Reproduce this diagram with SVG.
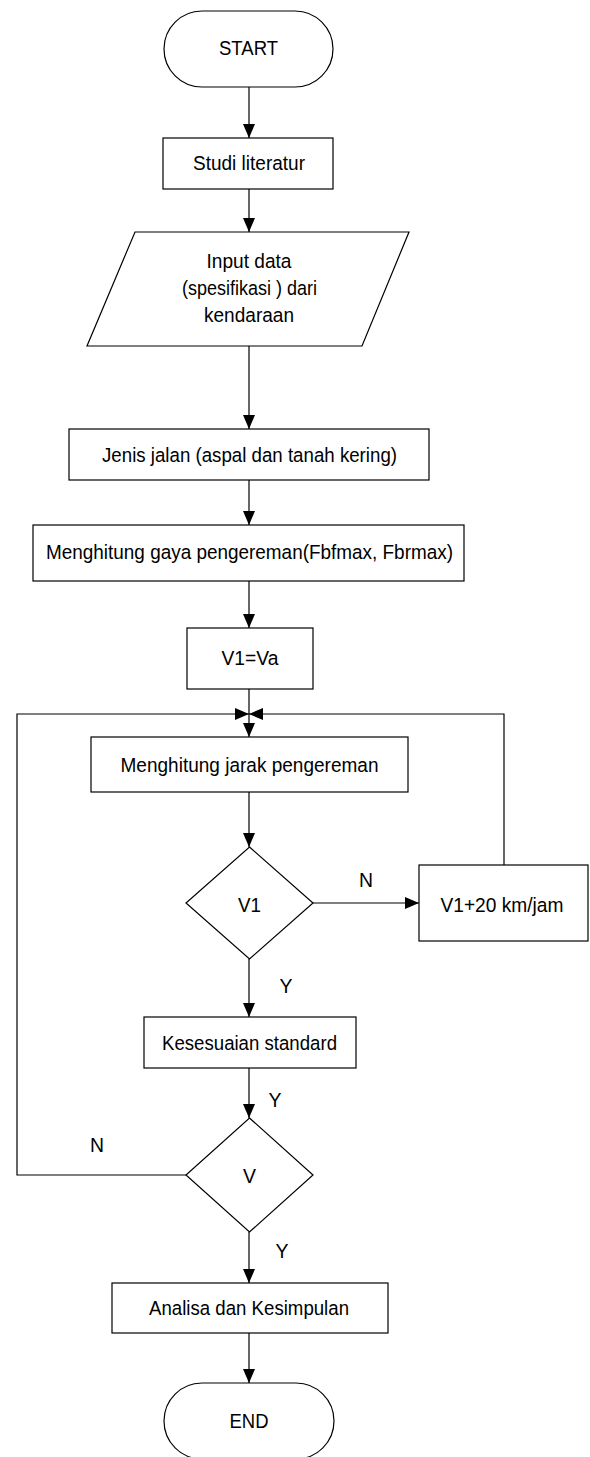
<svg xmlns="http://www.w3.org/2000/svg" width="590" height="1457" viewBox="0 0 590 1457">
<style>
.s{fill:#fff;stroke:#000;stroke-width:1.2}
.t{font-family:"Liberation Sans",Arial,sans-serif;font-size:20.5px;fill:#000;text-anchor:middle}
.c{fill:none;stroke:#000;stroke-width:1.2}
</style>
<defs>
<marker id="a" markerUnits="userSpaceOnUse" markerWidth="14" markerHeight="12" refX="14" refY="6" orient="auto">
<path d="M0,0 L14,6 L0,12 z" fill="#000"/>
</marker>
</defs>
<rect width="590" height="1457" fill="#fff"/>
<g id="connectors">
<path class="c" d="M249,87 V138" marker-end="url(#a)"/>
<path class="c" d="M249,189 V232" marker-end="url(#a)"/>
<path class="c" d="M249,346 V429" marker-end="url(#a)"/>
<path class="c" d="M249,480 V525" marker-end="url(#a)"/>
<path class="c" d="M249,581 V628" marker-end="url(#a)"/>
<path class="c" d="M249,689 V737" marker-end="url(#a)"/>
<path class="c" d="M186,1175 H17 V714 H249" marker-end="url(#a)"/>
<path class="c" d="M504,865 V714 H249" marker-end="url(#a)"/>
<path class="c" d="M249,792 V847" marker-end="url(#a)"/>
<path class="c" d="M313,903 H419" marker-end="url(#a)"/>
<path class="c" d="M249,959 V1017" marker-end="url(#a)"/>
<path class="c" d="M249,1068 V1118" marker-end="url(#a)"/>
<path class="c" d="M249,1232 V1283" marker-end="url(#a)"/>
<path class="c" d="M249,1333 V1383" marker-end="url(#a)"/>
<text class="t" x="366" y="887" textLength="14" lengthAdjust="spacingAndGlyphs">N</text>
<text class="t" x="286" y="993" textLength="13" lengthAdjust="spacingAndGlyphs">Y</text>
<text class="t" x="275" y="1107" textLength="13" lengthAdjust="spacingAndGlyphs">Y</text>
<text class="t" x="97" y="1152" textLength="14" lengthAdjust="spacingAndGlyphs">N</text>
<text class="t" x="282" y="1258" textLength="13" lengthAdjust="spacingAndGlyphs">Y</text>
</g>
<g id="start">
<rect class="s" x="164" y="11" width="169" height="76" rx="38" ry="38"/>
<text class="t" x="248.5" y="55" textLength="59" lengthAdjust="spacingAndGlyphs">START</text>
</g>
<g id="studi">
<rect class="s" x="163" y="138" width="170" height="51"/>
<text class="t" x="249" y="170" textLength="112" lengthAdjust="spacingAndGlyphs">Studi literatur</text>
</g>
<g id="input">
<polygon class="s" points="135,232 409,232 362,346 87,346"/>
<text class="t" x="249" y="268" textLength="85" lengthAdjust="spacingAndGlyphs">Input data</text>
<text class="t" x="249.5" y="295" textLength="135" lengthAdjust="spacingAndGlyphs">(spesifikasi ) dari</text>
<text class="t" x="249" y="322" textLength="90" lengthAdjust="spacingAndGlyphs">kendaraan</text>
</g>
<g id="jenis">
<rect class="s" x="69" y="429" width="360" height="51"/>
<text class="t" x="249.5" y="462" textLength="295" lengthAdjust="spacingAndGlyphs">Jenis jalan (aspal dan tanah kering)</text>
</g>
<g id="gaya">
<rect class="s" x="33" y="525" width="431" height="56"/>
<text class="t" x="249.5" y="559" textLength="407" lengthAdjust="spacingAndGlyphs">Menghitung gaya pengereman(Fbfmax, Fbrmax)</text>
</g>
<g id="v1va">
<rect class="s" x="187" y="628" width="126" height="61"/>
<text class="t" x="250" y="665" textLength="57" lengthAdjust="spacingAndGlyphs">V1=Va</text>
</g>
<g id="jarak">
<rect class="s" x="91" y="737" width="317" height="55"/>
<text class="t" x="249.5" y="772" textLength="258" lengthAdjust="spacingAndGlyphs">Menghitung jarak pengereman</text>
</g>
<g id="decision-v1">
<polygon class="s" points="249.5,847 313,903 249.5,959 186,903"/>
<text class="t" x="249.5" y="912" textLength="23" lengthAdjust="spacingAndGlyphs">V1</text>
</g>
<g id="v1plus">
<rect class="s" x="419" y="865" width="169" height="76"/>
<text class="t" x="502" y="912" textLength="123" lengthAdjust="spacingAndGlyphs">V1+20 km/jam</text>
</g>
<g id="kesesuaian">
<rect class="s" x="144" y="1017" width="212" height="51"/>
<text class="t" x="249.5" y="1050" textLength="175" lengthAdjust="spacingAndGlyphs">Kesesuaian standard</text>
</g>
<g id="decision-v">
<polygon class="s" points="249.5,1118 313,1175 249.5,1232 186,1175"/>
<text class="t" x="249.5" y="1183" textLength="13" lengthAdjust="spacingAndGlyphs">V</text>
</g>
<g id="analisa">
<rect class="s" x="112" y="1283" width="276" height="50"/>
<text class="t" x="249" y="1315" textLength="200" lengthAdjust="spacingAndGlyphs">Analisa dan Kesimpulan</text>
</g>
<g id="end">
<rect class="s" x="164" y="1383" width="170" height="76" rx="38" ry="38"/>
<text class="t" x="249" y="1428" textLength="39" lengthAdjust="spacingAndGlyphs">END</text>
</g>
</svg>
